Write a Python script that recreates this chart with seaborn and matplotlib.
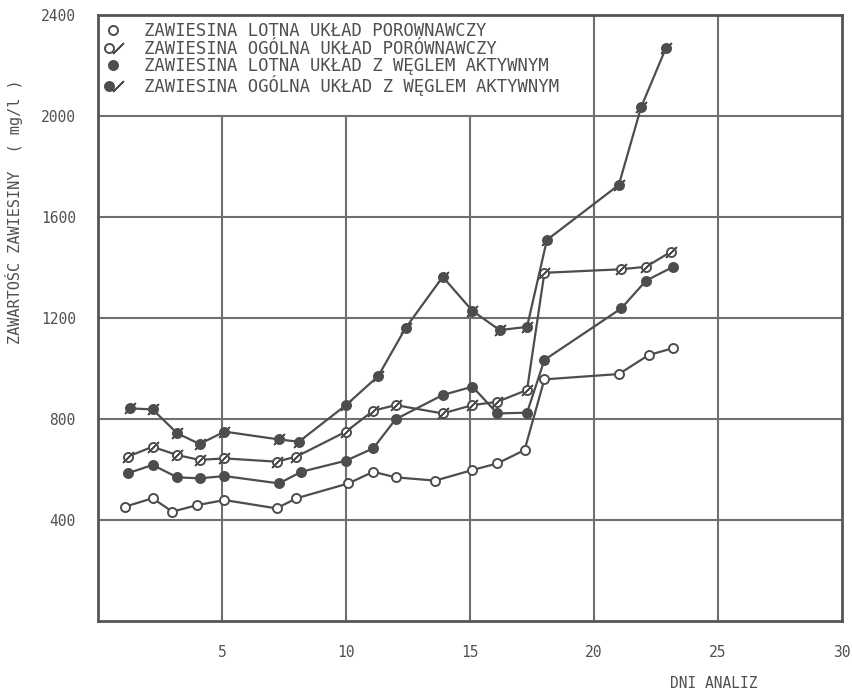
import numpy as np
import pandas as pd
import seaborn as sns
import matplotlib
matplotlib.use("Agg")
import matplotlib.pyplot as plt
from matplotlib.lines import Line2D
from matplotlib.legend_handler import HandlerTuple

# ---------------- data ----------------
days_lotna_por = [1.1, 2.2, 3.0, 4.0, 5.1, 7.2, 8.0, 10.1, 11.1, 12.0, 13.6, 15.1, 16.1, 17.2, 18.0, 21.0, 22.2, 23.2]
lotna_por = [453, 486, 433, 459, 479, 446, 486, 545, 591, 569, 556, 598, 624, 677, 957, 978, 1053, 1081]

days_ogolna_por = [1.2, 2.2, 3.2, 4.1, 5.1, 7.2, 8.0, 10.0, 11.1, 12.0, 13.9, 15.1, 16.1, 17.3, 18.0, 21.1, 22.1, 23.1]
ogolna_por = [651, 690, 657, 638, 644, 631, 651, 750, 833, 855, 822, 855, 868, 915, 1379, 1393, 1403, 1462]

days_lotna_wegiel = [1.2, 2.2, 3.2, 4.1, 5.1, 7.3, 8.2, 10.0, 11.1, 12.0, 13.9, 15.1, 16.1, 17.3, 18.0, 21.1, 22.1, 23.2]
lotna_wegiel = [585, 618, 569, 565, 574, 545, 591, 635, 684, 799, 895, 928, 822, 825, 1034, 1238, 1348, 1403]

days_ogolna_wegiel = [1.3, 2.2, 3.2, 4.1, 5.1, 7.3, 8.1, 10.0, 11.3, 12.4, 13.9, 15.1, 16.2, 17.3, 18.1, 21.0, 21.9, 22.9]
ogolna_wegiel = [842, 838, 743, 701, 750, 719, 710, 855, 970, 1160, 1363, 1228, 1152, 1165, 1509, 1727, 2035, 2269]

series_labels = [
    "ZAWIESINA LOTNA UKŁAD POROWNAWCZY",
    "ZAWIESINA OGÓLNA UKŁAD PORÓWNAWCZY",
    "ZAWIESINA LOTNA UKŁAD Z WĘGLEM AKTYWNYM",
    "ZAWIESINA OGÓLNA UKŁAD Z WĘGLEM AKTYWNYM",
]
x_ticks = [5, 10, 15, 20, 25, 30]
y_ticks = [400, 800, 1200, 1600, 2000, 2400]
x_label = "DNI ANALIZ"
y_label = "ZAWARTOŚC ZAWIESINY  ( mg/l )"

# ---------------- style ----------------
sns.set_theme(style="white")
plt.rcParams["font.family"] = ["DejaVu Sans Mono", "DejaVu Sans"]
DARK = "#4d4d4d"
GRID = "#6f6f6f"
TXT = "#505050"

fig = plt.figure(figsize=(8.53, 6.90), dpi=100)
ax = fig.add_axes([98 / 853, 1 - 621 / 690, 744 / 853, 606 / 690])
ax.set_xlim(0, 30)
ax.set_ylim(0, 2400)

# grid (vertical lines hidden behind the legend block above 2000 for x<=15)
ax.vlines([5, 10, 15], 0, 2000, color=GRID, lw=1.5, zorder=1)
ax.vlines([20, 25], 0, 2400, color=GRID, lw=1.5, zorder=1)
ax.hlines([400, 800, 1200, 1600, 2000], 0, 30, color=GRID, lw=1.5, zorder=1)

ms = 6.5
common = dict(ax=ax, color=DARK, lw=1.6, estimator=None, sort=False,
              marker="o", markersize=ms, markeredgecolor=DARK, markeredgewidth=1.4,
              legend=False, zorder=3)

sns.lineplot(x=days_lotna_por, y=lotna_por, markerfacecolor="white", **common)
sns.lineplot(x=days_ogolna_por, y=ogolna_por, markerfacecolor="white", **common)
sns.lineplot(x=days_lotna_wegiel, y=lotna_wegiel, markerfacecolor=DARK, **common)
sns.lineplot(x=days_ogolna_wegiel, y=ogolna_wegiel, markerfacecolor=DARK, **common)

SLASH = (2, 2, -45)
for dx, dy in [(days_ogolna_por, ogolna_por), (days_ogolna_wegiel, ogolna_wegiel)]:
    ax.plot(dx, dy, ls="none", marker=SLASH, ms=11, markeredgecolor=DARK,
            markeredgewidth=1.1, zorder=4)

# spines
for s in ax.spines.values():
    s.set_color("#555555")
    s.set_linewidth(2.0)

ax.set_xticks(x_ticks)
ax.set_yticks(y_ticks)
ax.set_xticklabels([str(v) for v in x_ticks])
ax.set_yticklabels([str(v) for v in y_ticks])
ax.tick_params(axis="both", length=0, colors=TXT, labelsize=10.5)
ax.tick_params(axis="y", pad=16)
ax.tick_params(axis="x", pad=17)

ax.set_xlabel(x_label, fontsize=10.5, color=TXT)
ax.xaxis.set_label_coords((714 - 98) / 744, (621 - 676) / 606)
ax.set_ylabel(y_label, fontsize=11, color=TXT)
ax.yaxis.set_label_coords((23 - 98) / 744, (621 - 212) / 606)

# legend
h_open = Line2D([], [], ls="none", marker="o", ms=ms, mfc="white", mec=DARK, mew=1.4)
h_fill = Line2D([], [], ls="none", marker="o", ms=ms, mfc=DARK, mec=DARK, mew=1.4)
h_sl = Line2D([], [], ls="none", marker=SLASH, ms=11, mec=DARK, mew=1.1)
handles = [h_open, (h_open, h_sl), h_fill, (h_fill, h_sl)]
leg = ax.legend(handles, series_labels, loc="upper left", bbox_to_anchor=(0, 1),
                bbox_transform=ax.transAxes, frameon=False,
                handler_map={tuple: HandlerTuple(ndivide=None, pad=0)},
                prop={"family": "DejaVu Sans Mono", "size": 12.4},
                handlelength=1.0, handletextpad=1.25, borderaxespad=0.0,
                borderpad=0.4, labelspacing=-0.02)
for t in leg.get_texts():
    t.set_color(TXT)

fig.savefig("out.png", dpi=100, facecolor="white")
